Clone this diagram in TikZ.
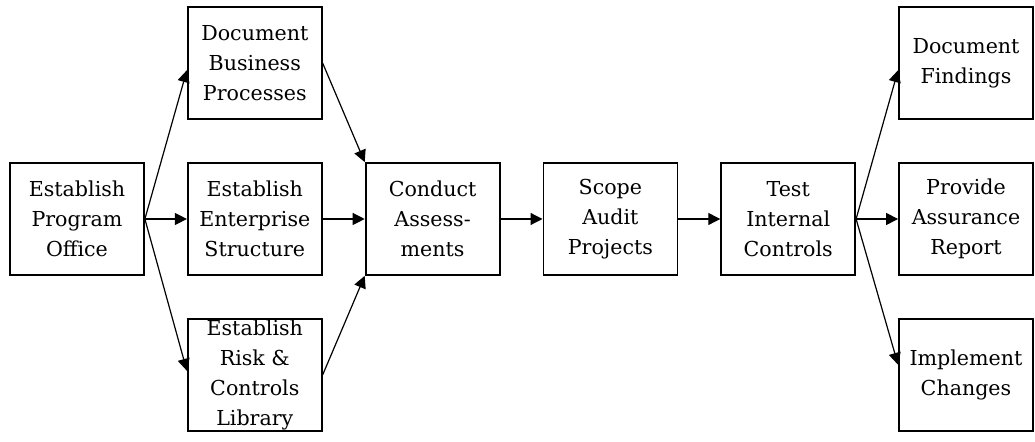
\documentclass[tikz,border=0pt]{standalone}
\usepackage{fontspec}
\setmainfont{DejaVu Serif}
\usetikzlibrary{arrows.meta}
\usetikzlibrary{positioning}
\tikzset{
	stage/.style={rectangle, draw, line width=0.9pt, minimum width=67pt, minimum height=56pt,
		inner sep=0pt, align=center, font=\fontsize{10.3}{15}\selectfont},
	arrow/.style={draw, line width=0.6pt, -{Triangle[length=6pt,width=6pt]}}
}
\begin{document}
\begin{tikzpicture}[x=0.5pt, y=-0.5pt, node distance=21pt and 21pt]
\useasboundingbox (0,0) rectangle (1035,442);

\node[stage] (office) at (77,219) {Establish\\Program\\Office};

\node[stage, right = of office] (structure) {Establish\\Enterprise\\Structure};
\node[stage, above = of structure] (processes) {Document\\Business\\Processes};
\node[stage, below = of structure] (library) {Establish\\Risk \&\\Controls\\Library};

\node[stage, right = of structure] (assess) {Conduct\\Assess-\\ments};
\node[stage, right = of assess] (scope) {Scope\\Audit\\Projects};
\node[stage, right = of scope] (test) {Test\\Internal\\Controls};

\node[stage, right = of test] (report) {Provide\\Assurance\\Report};
\node[stage, above = of report] (findings) {Document\\Findings};
\node[stage, below = of report] (changes) {Implement\\Changes};

\draw [arrow] (office.east) -- ([yshift=-3.5pt]processes.west);
\draw [arrow] (office) -- (structure);
\draw [arrow] (office.east) -- ([yshift=2pt]library.west);

\draw [arrow] (processes.east) -- (assess.north west);
\draw [arrow] (structure) -- (assess);
\draw [arrow] (library.east) -- (assess.south west);

\draw [arrow] (assess) -- (scope);
\draw [arrow] (scope) -- (test);

\draw [arrow] (test.east) -- ([yshift=-3.5pt]findings.west);
\draw [arrow] (test) -- (report);
\draw [arrow] (test.east) -- ([yshift=5pt]changes.west);

\end{tikzpicture}
\end{document}
